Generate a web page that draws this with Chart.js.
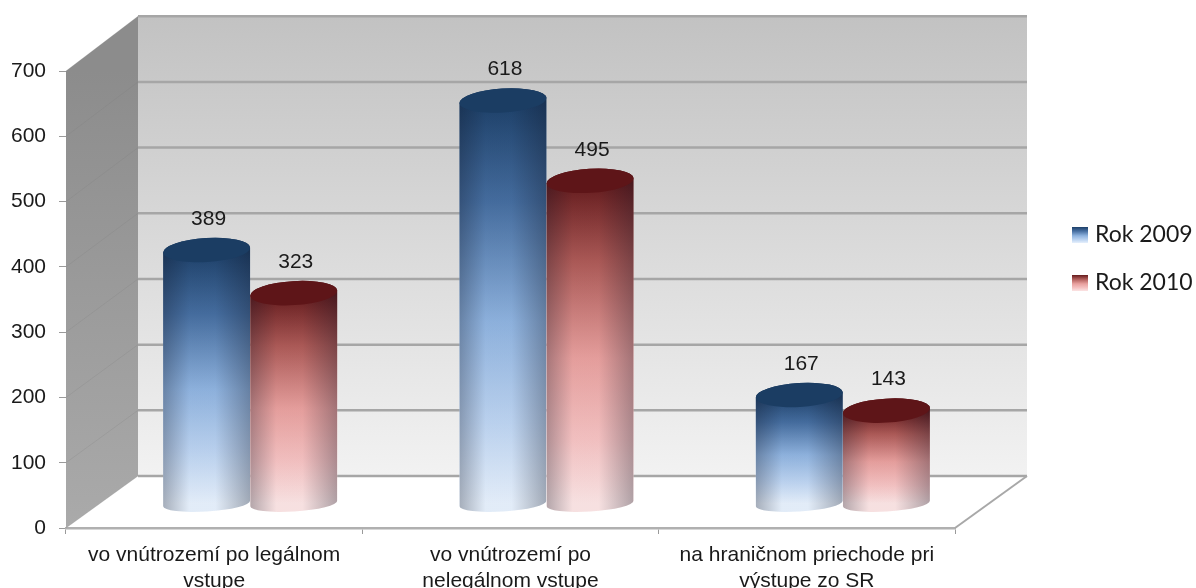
<!DOCTYPE html>
<html>
<head>
<meta charset="utf-8">
<title>Rok 2009 / Rok 2010</title>
<script src="https://cdn.jsdelivr.net/npm/chart.js@4/dist/chart.umd.min.js"></script>
<style>
    html, body { margin: 0; padding: 0; background: #fff; }
    #wrap { width: 1196px; height: 588px; overflow: hidden; }
    #chart { filter: blur(0.4px); }
</style>
</head>
<body>
<div id="wrap"><canvas id="chart" width="1196" height="588"></canvas></div>
<script>
// Data
const categories = [
    ['vo vnútrozemí po legálnom', 'vstupe'],
    ['vo vnútrozemí po', 'nelegálnom vstupe'],
    ['na hraničnom priechode pri', 'výstupe zo SR']
];
const rok2009 = [389, 618, 167];
const rok2010 = [323, 495, 143];
const seriesNames = ['Rok 2009', 'Rok 2010'];
const axisMax = 700;
const axisStep = 100;

// Look of the two cylinders
const blueStops = ['#1d4069', '#456d9f', '#8fb3df', '#bdd4f1', '#e6f0fc'];
const redStops = ['#641a1c', '#ad5a57', '#e8a09e', '#f5c2c2', '#fbe4e4'];
const capColors = ['#1b3d63', '#5e1518'];
const stopAt = [0, 0.25, 0.55, 0.8, 1];

// Depth of the 3D box, measured from the front plane
const depthX = 72;
const depthY = 52;
const backStretch = 1.006;

function makeGradient(ctx, y0, y1, stops) {
    const g = ctx.createLinearGradient(0, y0, 0, y1);
    stops.forEach((c, i) => g.addColorStop(stopAt[i], c));
    return g;
}

const box3d = {
    id: 'box3d',
    beforeDatasetsDraw(chart) {
        const { ctx, scales: { x, y } } = chart;
        const baseY = y.getPixelForValue(0);
        const topY = y.getPixelForValue(axisMax);
        const backY = v => baseY - depthY - (baseY - y.getPixelForValue(v)) * backStretch;
        const left = x.left, right = x.right;

        ctx.save();
        // back wall
        const wall = ctx.createLinearGradient(0, backY(axisMax), 0, backY(0));
        wall.addColorStop(0, '#c2c2c2');
        wall.addColorStop(1, '#f2f2f2');
        ctx.fillStyle = wall;
        ctx.fillRect(left + depthX, backY(axisMax), right - left, backY(0) - backY(axisMax));

        // side wall
        const side = ctx.createLinearGradient(0, topY, 0, baseY);
        side.addColorStop(0, '#8c8c8c');
        side.addColorStop(1, '#aaaaaa');
        ctx.fillStyle = side;
        ctx.beginPath();
        ctx.moveTo(left, topY);
        ctx.lineTo(left + depthX, backY(axisMax));
        ctx.lineTo(left + depthX, backY(0));
        ctx.lineTo(left, baseY);
        ctx.closePath();
        ctx.fill();

        // grid lines on both walls
        y.ticks.forEach(t => {
            const py = y.getPixelForValue(t.value);
            ctx.strokeStyle = 'rgba(120,120,120,0.2)';
            ctx.lineWidth = 1;
            ctx.beginPath();
            ctx.moveTo(left, py);
            ctx.lineTo(left + depthX, backY(t.value));
            ctx.stroke();
            ctx.strokeStyle = '#a6a6a6';
            ctx.lineWidth = 2.5;
            ctx.beginPath();
            ctx.moveTo(left + depthX, backY(t.value));
            ctx.lineTo(right + depthX, backY(t.value));
            ctx.stroke();
        });

        // right floor edge
        ctx.strokeStyle = '#a8a8a8';
        ctx.lineWidth = 2;
        ctx.beginPath();
        ctx.moveTo(right, baseY);
        ctx.lineTo(right + depthX, backY(0));
        ctx.stroke();
        ctx.restore();
    },
    afterDatasetsDraw(chart) {
        const { ctx } = chart;
        const rot = -3.5 * Math.PI / 180;
        chart.data.datasets.forEach((ds, i) => {
            chart.getDatasetMeta(i).data.forEach((bar, j) => {
                // cylinders stand halfway into the box
                const cx = bar.x + depthX / 2;
                const ty = bar.y - depthY / 2 + 2;
                const by = bar.base - depthY / 2 + 2;
                const rx = bar.width / 2;
                const ry = 12;
                const lowRy = 8;

                ctx.save();
                ctx.beginPath();
                ctx.ellipse(cx, by, rx, lowRy, rot, Math.PI, 0, true);
                ctx.ellipse(cx, ty, rx, ry, rot, 0, Math.PI, true);
                ctx.closePath();
                ctx.fillStyle = makeGradient(ctx, ty, by, i === 0 ? blueStops : redStops);
                ctx.fill();
                ctx.clip();
                const shade = ctx.createLinearGradient(cx - rx, 0, cx + rx, 0);
                shade.addColorStop(0, 'rgba(15,20,35,0.3)');
                shade.addColorStop(0.3, 'rgba(15,20,35,0.02)');
                shade.addColorStop(0.6, 'rgba(15,20,35,0.02)');
                shade.addColorStop(1, 'rgba(15,20,35,0.32)');
                ctx.fillStyle = shade;
                ctx.fillRect(cx - rx, ty - ry - 4, bar.width, by - ty + ry + lowRy + 8);
                ctx.restore();

                // top face
                ctx.save();
                ctx.fillStyle = capColors[i];
                ctx.beginPath();
                ctx.ellipse(cx, ty, rx, ry, rot, 0, Math.PI * 2);
                ctx.fill();
                ctx.restore();

                // value label
                ctx.save();
                ctx.fillStyle = '#1a1a1a';
                ctx.font = '21px "Liberation Sans"';
                ctx.textAlign = 'center';
                ctx.textBaseline = 'middle';
                ctx.fillText(ds.data[j], cx + 2, ty - 31);
                ctx.restore();
            });
        });

        // legend, to the right of the box
        ctx.save();
        ctx.font = '23px Lato';
        ctx.textBaseline = 'middle';
        chart.data.datasets.forEach((ds, i) => {
            const ly = 235 + i * 48;
            ctx.fillStyle = makeGradient(ctx, ly - 8, ly + 8, i === 0 ? blueStops : redStops);
            ctx.fillRect(1072, ly - 8, 16, 16);
            ctx.fillStyle = '#1a1a1a';
            ctx.fillText(ds.label, 1095, ly);
        });
        ctx.restore();
    }
};

new Chart(document.getElementById('chart'), {
    type: 'bar',
    data: {
        labels: categories,
        datasets: [
            { label: seriesNames[0], data: rok2009, backgroundColor: 'rgba(0,0,0,0)' },
            { label: seriesNames[1], data: rok2010, backgroundColor: 'rgba(0,0,0,0)' }
        ]
    },
    options: {
        responsive: false,
        animation: false,
        layout: { padding: { top: 71, right: 241, left: 0, bottom: 0 } },
        datasets: { bar: { barPercentage: 1, categoryPercentage: 0.588 } },
        plugins: { legend: { display: false }, tooltip: { enabled: false } },
        scales: {
            x: {
                afterFit(s) { s.height = 60; },
                border: { color: '#b0b0b0', width: 2.5 },
                grid: { offset: true, drawOnChartArea: false, tickLength: 6, color: '#9a9a9a' },
                ticks: {
                    color: '#1a1a1a', padding: 9, maxRotation: 0, autoSkip: false,
                    font: { family: 'Liberation Sans', size: 21, lineHeight: 1.2 }
                }
            },
            y: {
                min: 0,
                max: axisMax,
                afterFit(s) { s.width = 66; },
                border: { display: false },
                grid: { drawOnChartArea: false, tickLength: 7, color: '#9a9a9a' },
                ticks: {
                    stepSize: axisStep, color: '#1a1a1a', padding: 13,
                    font: { family: 'Liberation Sans', size: 21 }
                }
            }
        }
    },
    plugins: [box3d]
});
</script>
</body>
</html>
